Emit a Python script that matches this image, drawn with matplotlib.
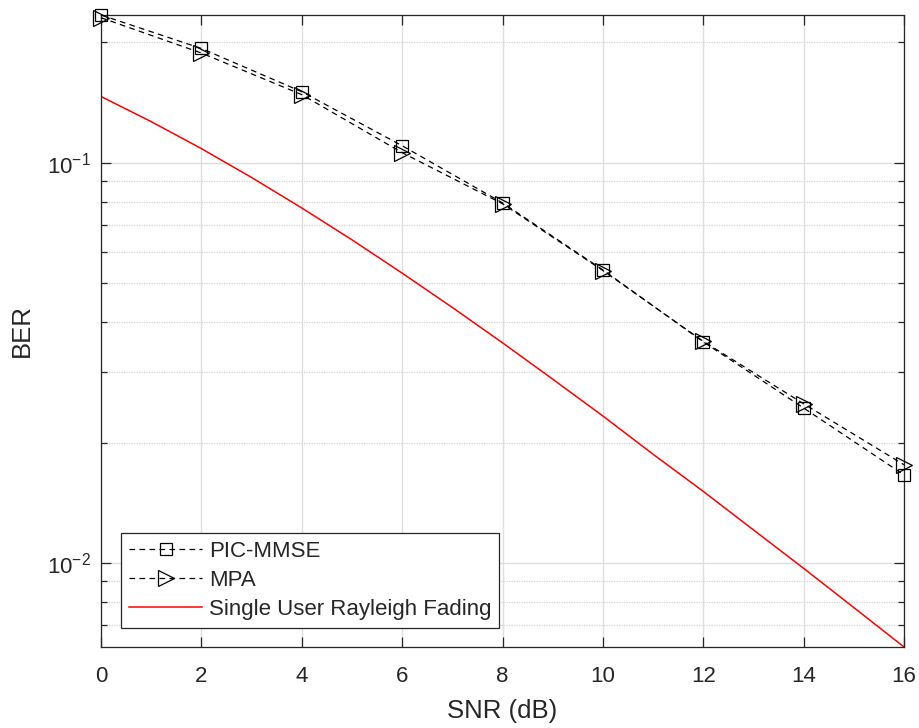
import matplotlib
matplotlib.use("Agg")
import matplotlib.pyplot as plt
from matplotlib.ticker import LogLocator, NullFormatter

# values
snr_db = [0, 2, 4, 6, 8, 10, 12, 14, 16]
ber_pic_mmse = [0.234, 0.193, 0.1505, 0.1103, 0.0794, 0.0540, 0.0357, 0.0244, 0.0166]
ber_mpa = [0.2304, 0.188, 0.148, 0.106, 0.0790, 0.0538, 0.0358, 0.0250, 0.0176]

snr_single = [0, 1, 2, 3, 4, 5, 6, 7, 8, 9, 10, 11, 12, 13, 14, 15, 16]
ber_single = [0.1464, 0.1267, 0.1085, 0.0919, 0.0771, 0.0642, 0.0530, 0.0435,
              0.0355, 0.0288, 0.0233, 0.0187, 0.0151, 0.0121, 0.0097, 0.00774, 0.00617]

x_ticks = [0, 2, 4, 6, 8, 10, 12, 14, 16]

plt.rcParams["font.family"] = ["Liberation Sans", "DejaVu Sans"]
ink = "#262626"

fig = plt.figure(figsize=(9.2, 7.28), dpi=100)
ax = fig.add_axes([0.1098, 0.1113, 0.8728, 0.8681])

dash = (0, (4.5, 3.5))
ax.semilogy(snr_db, ber_pic_mmse, color="black", linestyle=dash, linewidth=0.9,
            marker="s", markersize=8, markerfacecolor="none", markeredgewidth=0.9,
            label="PIC-MMSE", clip_on=False, zorder=3)
ax.semilogy(snr_db, ber_mpa, color="black", linestyle=dash, linewidth=0.9,
            marker=">", markersize=11, markerfacecolor="none", markeredgewidth=0.9,
            label="MPA", clip_on=False, zorder=3)
ax.semilogy(snr_single, ber_single, color="red", linewidth=1.1,
            label="Single User Rayleigh Fading", zorder=2)

ax.set_xlim(snr_db[0], snr_db[-1])
ax.set_ylim(min(ber_single), max(ber_pic_mmse))
ax.set_xticks(x_ticks)

ax.yaxis.set_major_locator(LogLocator(base=10))
ax.yaxis.set_minor_locator(LogLocator(base=10, subs=range(2, 10)))
ax.yaxis.set_minor_formatter(NullFormatter())

ax.grid(True, which="major", color="#dedede", linewidth=1.0, linestyle="-")
ax.grid(True, which="minor", axis="y", color="#d4d4d4", linewidth=0.9, linestyle=(0, (1, 1)))
ax.set_axisbelow(True)

ax.tick_params(which="both", direction="in", top=True, right=True, colors=ink,
               labelsize=16, width=0.9)
ax.tick_params(which="major", length=7)
ax.tick_params(which="minor", length=4)
ax.tick_params(axis="x", which="major", pad=14)
ax.tick_params(axis="y", which="major", pad=7)
for s in ax.spines.values():
    s.set_color(ink)
    s.set_linewidth(0.9)

ax.set_xlabel("SNR (dB)", fontsize=18.5, color=ink, labelpad=8)
ax.set_ylabel("BER", fontsize=18.5, color=ink, labelpad=10)

leg = ax.legend(loc="lower left", bbox_to_anchor=(0.025, 0.03), fontsize=16,
                handlelength=3.3, handletextpad=0.3, borderpad=0.35,
                labelspacing=0.36, fancybox=False, framealpha=1, borderaxespad=0)
leg.get_frame().set_edgecolor(ink)
leg.get_frame().set_linewidth(0.9)
for t in leg.get_texts():
    t.set_color(ink)

fig.savefig("out.png", dpi=100)
